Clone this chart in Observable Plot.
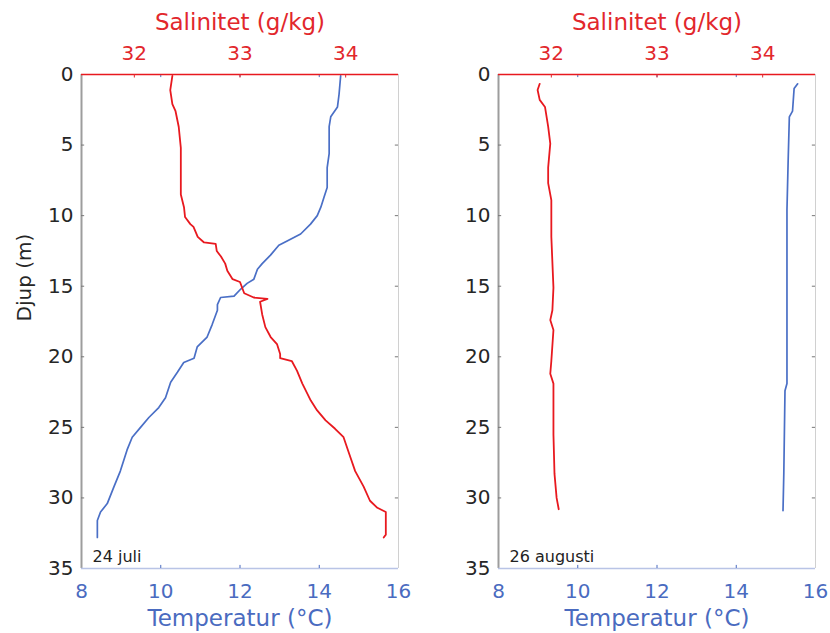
<!DOCTYPE html>
<html>
<head>
<meta charset="utf-8">
<script src="https://cdn.jsdelivr.net/npm/d3@7"></script>
<script src="https://cdn.jsdelivr.net/npm/@observablehq/plot@0.6"></script>
<style>
  body { margin: 0; background: #fff; }
  #chart { position: relative; width: 830px; height: 633px; font-family: "DejaVu Sans", sans-serif; }
  #chart svg { position: absolute; top: 0; }
</style>
</head>
<body>
<div id="chart"></div>
<script>
// ---- Tick labels / axis titles ----
const depthTicks = [0, 5, 10, 15, 20, 25, 30, 35];
const tempTicks = [8, 10, 12, 14, 16];
const salTicks = [32, 33, 34];
const tempLabel = "Temperatur (°C)";
const salLabel = "Salinitet (g/kg)";
const depthLabel = "Djup (m)";
const panelNotes = ["24 juli", "26 augusti"];

// ---- 24 juli: temperature profile ----
const juliTempDepth = [0.1, 1.4, 2.3, 3.0, 3.7, 5.6, 6.6, 8.0, 8.7, 9.4, 10.0, 10.6, 11.3, 11.8, 12.1, 12.8, 13.4, 13.8, 14.5, 14.8, 15.2, 15.7, 15.8, 16.3, 16.7, 17.7, 18.6, 19.3, 20.1, 20.4, 21.1, 21.8, 22.9, 23.6, 24.3, 25.0, 25.7, 26.6, 28.1, 29.2, 30.4, 31.0, 31.6, 32.8];
const juliTemp = [14.54, 14.50, 14.46, 14.29, 14.25, 14.25, 14.20, 14.20, 14.12, 14.04, 13.95, 13.78, 13.53, 13.19, 12.98, 12.77, 12.56, 12.44, 12.35, 12.18, 12.02, 11.85, 11.51, 11.43, 11.43, 11.30, 11.17, 10.92, 10.84, 10.58, 10.42, 10.25, 10.12, 9.95, 9.70, 9.49, 9.28, 9.15, 8.98, 8.82, 8.65, 8.48, 8.40, 8.40];

// ---- 24 juli: salinity profile ----
const juliSalDepth = [0.1, 1.1, 2.1, 2.6, 3.7, 5.2, 6.8, 8.5, 9.4, 10.1, 10.6, 10.8, 11.5, 11.9, 12.0, 12.5, 12.9, 13.4, 13.9, 14.5, 14.7, 15.5, 15.8, 15.9, 16.1, 17.0, 17.9, 18.6, 19.1, 19.8, 20.1, 20.3, 21.0, 21.9, 23.1, 23.8, 24.5, 25.1, 25.7, 26.8, 28.1, 29.2, 30.2, 30.7, 31.0, 32.6, 32.8];
const juliSal = [32.36, 32.34, 32.36, 32.39, 32.42, 32.44, 32.44, 32.44, 32.47, 32.48, 32.53, 32.56, 32.60, 32.66, 32.77, 32.78, 32.82, 32.86, 32.88, 32.93, 33.00, 33.04, 33.13, 33.26, 33.19, 33.21, 33.24, 33.29, 33.35, 33.38, 33.38, 33.49, 33.54, 33.59, 33.67, 33.73, 33.81, 33.90, 33.98, 34.03, 34.09, 34.17, 34.23, 34.30, 34.38, 34.38, 34.36];

// ---- 26 augusti: temperature profile ----
const augTempDepth = [0.66, 1.0, 2.6, 3.0, 6.1, 9.6, 17.4, 21.9, 22.4, 28.3, 30.9];
const augTemp = [15.55, 15.46, 15.42, 15.34, 15.31, 15.28, 15.28, 15.28, 15.23, 15.20, 15.18];

// ---- 26 augusti: salinity profile ----
const augSalDepth = [0.66, 1.1, 1.8, 2.3, 3.7, 4.9, 6.6, 7.7, 8.9, 11.5, 15.1, 16.7, 17.4, 18.1, 20.3, 21.2, 21.9, 25.5, 28.3, 30.0, 30.8];
const augSal = [31.89, 31.87, 31.89, 31.94, 31.97, 31.99, 31.97, 31.97, 32.00, 32.00, 32.02, 32.01, 31.99, 32.02, 32.00, 31.99, 32.02, 32.02, 32.03, 32.05, 32.07];

const RED = "#e2272c", RED_LINE = "#e8191f", BLUE = "#4a6bc0", BLUE_LINE = "#4a6fc6";
const rows = (depth, vals) => depth.map((d, i) => ({d, v: vals[i]}));
const fmt = d => String(d);

function panel({left, mL, mR, tempD, temp, salD, sal, note, showYLabel}) {
  const common = {
    width: 415, height: 633,
    marginLeft: mL, marginRight: mR, marginTop: 74, marginBottom: 65,
    y: {domain: [0, 35], reverse: true, axis: null, label: null}
  };
  const inner = depthTicks.slice(1, -1);
  const tMarks = [
    Plot.ruleX([8], {stroke: "#9d9d9d", strokeWidth: 2}),
    Plot.ruleX([16], {stroke: "#d0d0d0", strokeWidth: 1}),
    Plot.ruleY([35], {stroke: "#b9c4e6", strokeWidth: 1.5}),
    Plot.ruleY(inner, {y: d => d, x1: 8, x2: 8.08, stroke: "#777"}),
    Plot.ruleY(inner, {y: d => d, x1: 15.92, x2: 16, stroke: "#777"}),
    Plot.ruleX([10, 12, 14], {x: d => d, y1: 35, y2: 34.78, stroke: BLUE}),
    Plot.ruleX([10, 12, 14], {x: d => d, y1: 0, y2: 0.22, stroke: BLUE}),
    Plot.line(rows(tempD, temp), {x: "v", y: "d", stroke: BLUE_LINE, strokeWidth: 1.7}),
    Plot.axisX({anchor: "bottom", ticks: tempTicks, tickFormat: fmt, tickSize: 0, tickPadding: 15, fontSize: 20, fill: BLUE, label: null}),
    Plot.axisY({anchor: "left", ticks: depthTicks, tickFormat: fmt, tickSize: 0, tickPadding: 8, fontSize: 20, fill: "#262626", label: null}),
    Plot.text([tempLabel], {text: d => d, frameAnchor: "bottom", lineAnchor: "bottom", dy: 57, fontSize: 23, fill: BLUE}),
    Plot.text([note], {text: d => d, frameAnchor: "bottom-left", textAnchor: "start", lineAnchor: "bottom", dx: 11, dy: -7, fontSize: 16, fill: "#222"})
  ];
  if (showYLabel) {
    tMarks.push(Plot.text([depthLabel], {text: d => d, frameAnchor: "left", rotate: -90, dx: -57, fontSize: 20, fill: "#262626"}));
  }
  const tSvg = Plot.plot({
    ...common,
    style: {background: "transparent", fontFamily: "DejaVu Sans", overflow: "visible"},
    x: {domain: [8, 16], axis: null, label: null},
    marks: tMarks
  });
  const sSvg = Plot.plot({
    ...common,
    style: {background: "transparent", fontFamily: "DejaVu Sans", overflow: "visible"},
    x: {domain: [31.5, 34.5], axis: null, label: null},
    marks: [
      Plot.ruleY([0], {stroke: RED_LINE, strokeWidth: 1.6}),
      Plot.ruleX(salTicks, {x: d => d, y1: 0, y2: 0.25, stroke: RED}),
      Plot.line(rows(salD, sal), {x: "v", y: "d", stroke: RED_LINE, strokeWidth: 1.8}),
      Plot.axisX({anchor: "top", ticks: salTicks, tickFormat: fmt, tickSize: 0, tickPadding: 15, fontSize: 20, fill: RED, label: null}),
      Plot.text([salLabel], {text: d => d, frameAnchor: "top", lineAnchor: "bottom", dy: -45, fontSize: 23, fill: RED})
    ]
  });
  for (const s of [tSvg, sSvg]) {
    s.style.position = "absolute";
    s.style.left = left + "px";
    s.style.top = "0px";
    document.getElementById("chart").appendChild(s);
  }
}

panel({left: 0, mL: 81, mR: 17, tempD: juliTempDepth, temp: juliTemp, salD: juliSalDepth, sal: juliSal, note: panelNotes[0], showYLabel: true});
panel({left: 415, mL: 83, mR: 15, tempD: augTempDepth, temp: augTemp, salD: augSalDepth, sal: augSal, note: panelNotes[1], showYLabel: false});
</script>
</body>
</html>
